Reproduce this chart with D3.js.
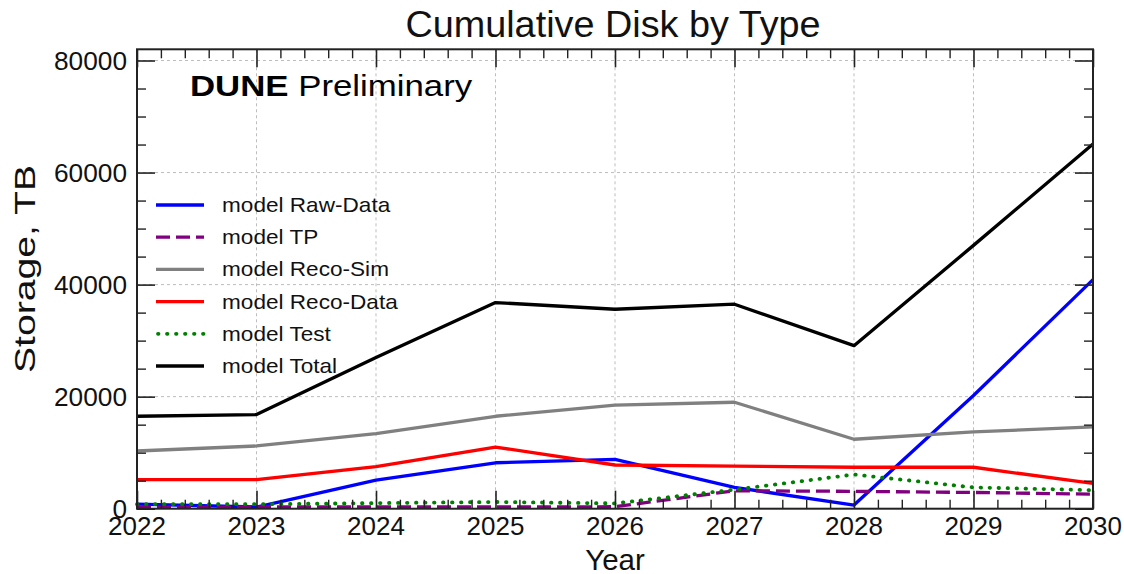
<!DOCTYPE html>
<html><head><meta charset="utf-8">
<script src="https://cdn.jsdelivr.net/npm/d3@7"></script>
<style>
html,body{margin:0;padding:0;background:#fff;}
svg{display:block;font-family:"Liberation Sans",Arial,Helvetica,sans-serif;}
</style></head>
<body><svg id="c" width="1124" height="574"></svg>
<script>
const years = [2022, 2023, 2024, 2025, 2026, 2027, 2028, 2029, 2030];
const rawData  = [800, 300, 5100, 8200, 8800, 3800, 650, 20200, 40900];
const tp       = [250, 300, 300, 300, 350, 3200, 3100, 2900, 2600];
const recoSim  = [10300, 11200, 13400, 16500, 18500, 19000, 12400, 13700, 14600];
const recoData = [5200, 5200, 7500, 11000, 7800, 7600, 7400, 7400, 4500];
const testData = [800, 800, 1000, 1200, 950, 3400, 6100, 3800, 3300];
const total    = [16500, 16800, 27000, 36800, 35600, 36500, 29100, 47000, 65100];
const yTicks = [0, 20000, 40000, 60000, 80000];
const xTicks = years;
const seriesNames = ["model Raw-Data", "model TP", "model Reco-Sim", "model Reco-Data", "model Test", "model Total"];
const seriesValues = [rawData, tp, recoSim, recoData, testData, total];
const seriesColors = ["#0000ff", "#800080", "#808080", "#ff0000", "#008000", "#000000"];
const seriesDash = [null, "14,6", null, null, "0.5,8.5", null];

const svg = d3.select("#c");
const L = 137, R = 1093, T = 49.3, B = 508.7;
const x = d3.scaleLinear().domain([2022, 2030]).range([L, R]);
const y = d3.scaleLinear().domain([0, 82000]).range([B, T]);

// grid
const g = svg.append("g");
g.selectAll(".gx").data(xTicks.slice(1, -1)).enter().append("line")
  .attr("x1", d => x(d)).attr("x2", d => x(d)).attr("y1", T).attr("y2", B)
  .attr("stroke", "#bdbdbd").attr("stroke-width", 1).attr("stroke-dasharray", "3,3");
g.selectAll(".gy").data(yTicks.slice(1)).enter().append("line")
  .attr("x1", L).attr("x2", R).attr("y1", d => y(d)).attr("y2", d => y(d))
  .attr("stroke", "#bdbdbd").attr("stroke-width", 1).attr("stroke-dasharray", "3,3");

// lines
const line = d3.line().x((d, i) => x(years[i])).y(d => y(d));
seriesValues.forEach((vals, k) => {
  const dotted = seriesDash[k] === "0.5,8.5";
  svg.append("path").datum(vals).attr("d", line)
    .attr("fill", "none").attr("stroke", seriesColors[k]).attr("stroke-width", dotted ? 3.8 : 3.3)
    .attr("stroke-dasharray", seriesDash[k])
    .attr("stroke-linecap", dotted ? "round" : "butt")
    .attr("stroke-linejoin", "round");
});

// axes with inward ticks
const xMinor = d3.range(2022, 2030.001, 0.2).filter(v => Math.abs(v - Math.round(v)) > 1e-6);
const yMinor = d3.range(0, 82001, 5000).filter(v => v % 20000 !== 0);
const tickColor = "#222";
function axisTicks(axisGen, transform, major, minor, len, minLen) {
  const a = svg.append("g").attr("transform", transform)
    .call(axisGen.tickValues(major).tickSize(len).tickFormat(""));
  a.select(".domain").remove();
  a.selectAll("line").attr("stroke", tickColor).attr("stroke-width", 1.6);
  const b = svg.append("g").attr("transform", transform)
    .call(axisGen.tickValues(minor).tickSize(minLen).tickFormat(""));
  b.select(".domain").remove();
  b.selectAll("line").attr("stroke", tickColor).attr("stroke-width", 1.4);
}
axisTicks(d3.axisTop(x), `translate(0,${B})`, xTicks, xMinor, 18, 9);
axisTicks(d3.axisBottom(x), `translate(0,${T})`, xTicks, xMinor, 18, 9);
axisTicks(d3.axisRight(y), `translate(${L},0)`, yTicks, yMinor, 18, 9);
axisTicks(d3.axisLeft(y), `translate(${R},0)`, yTicks, yMinor, 18, 9);

// frame
svg.append("rect").attr("x", L).attr("y", T).attr("width", R - L).attr("height", B - T)
  .attr("fill", "none").attr("stroke", "#222").attr("stroke-width", 2);

// tick labels
svg.selectAll(".xl").data(xTicks).enter().append("text")
  .attr("transform", d => `translate(${x(d)},535) scale(1.02,1)`)
  .attr("text-anchor", "middle").attr("font-size", 25.5).attr("fill", "#111").text(d => d);
svg.selectAll(".yl").data(yTicks).enter().append("text")
  .attr("transform", d => `translate(127,${y(d) + 9}) scale(1.05,1)`)
  .attr("text-anchor", "end").attr("font-size", 25).attr("fill", "#111").text(d => d);

// axis titles
svg.append("text").attr("transform", "translate(615,570)")
  .attr("text-anchor", "middle").attr("font-size", 29.5).attr("fill", "#111").text("Year");
svg.append("text").attr("transform", "translate(35,269) rotate(-90) scale(1.35,1)")
  .attr("text-anchor", "middle").attr("font-size", 29).attr("fill", "#111").text("Storage, TB");

// title
svg.append("text").attr("transform", "translate(613,37.3) scale(1.05,1)")
  .attr("text-anchor", "middle").attr("font-size", 36).attr("fill", "#111").text("Cumulative Disk by Type");

// DUNE Preliminary
const dt = svg.append("text").attr("transform", "translate(190,96) scale(1.2,1)")
  .attr("font-size", 29).attr("fill", "#000");
dt.append("tspan").attr("font-weight", "bold").text("DUNE");
dt.append("tspan").text(" Preliminary");

// legend
const legY0 = 205, legDy = 32.2;
seriesNames.forEach((n, k) => {
  const yy = legY0 + k * legDy;
  const dotted = seriesDash[k] === "0.5,8.5";
  svg.append("line").attr("x1", dotted ? 158 : 156).attr("x2", 204).attr("y1", yy).attr("y2", yy)
    .attr("stroke", seriesColors[k]).attr("stroke-width", dotted ? 3.8 : 3.3)
    .attr("stroke-dasharray", seriesDash[k])
    .attr("stroke-linecap", dotted ? "round" : "butt");
  svg.append("text").attr("transform", `translate(222,${yy + 7}) scale(1.13,1)`)
    .attr("font-size", 20).attr("fill", "#111").text(n);
});
</script></body></html>
